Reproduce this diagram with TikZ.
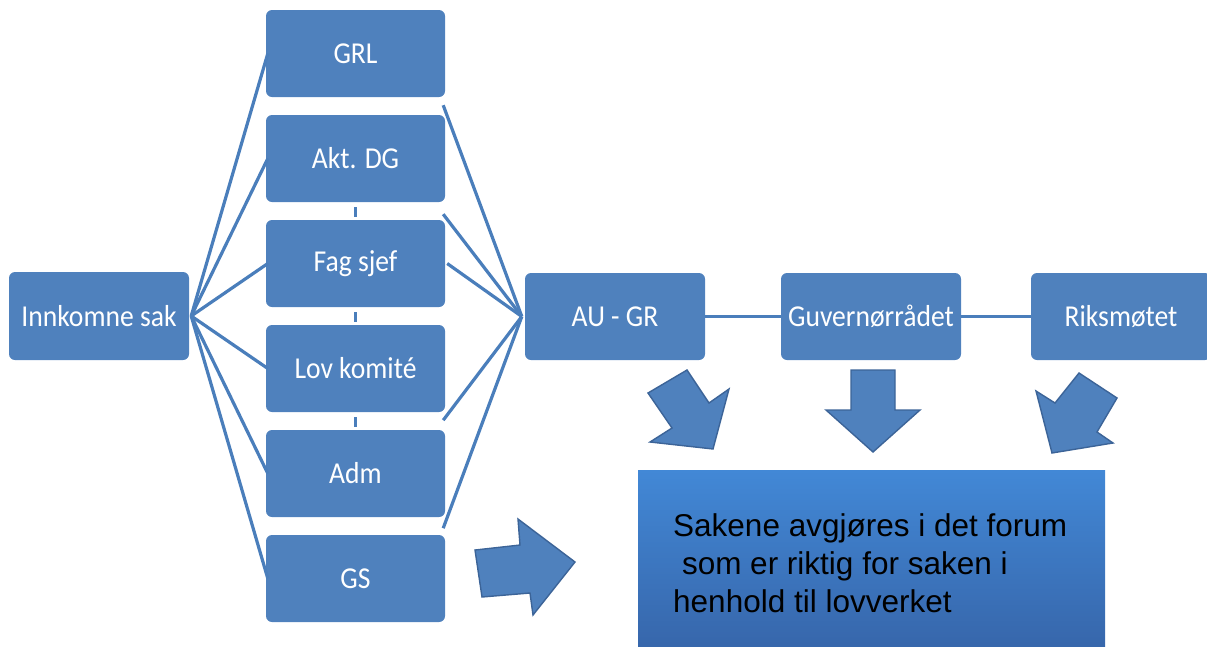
\documentclass[tikz,border=0pt]{standalone}
\usepackage{fontspec}
\setmainfont{Carlito}
\newfontfamily\arialfont{Liberation Sans}
\definecolor{boxblue}{RGB}{79,129,189}
\definecolor{lineblue}{RGB}{74,126,187}
\definecolor{arrowedge}{RGB}{60,100,152}
\definecolor{dectop}{RGB}{66,136,214}
\definecolor{decbottom}{RGB}{54,100,168}
\newcommand{\lbl}[1]{\scalebox{1}[1.1]{#1}}
\begin{document}
\begin{tikzpicture}[x=1pt,y=-1pt,
  orgbox/.style={draw=none, fill=boxblue, rounded corners=6pt, minimum width=179pt, minimum height=87pt, text=white, font=\fontsize{27.6}{33}\selectfont, inner sep=0pt},
  link/.style={draw=lineblue, line width=3.2pt},
  tick/.style={draw=lineblue, line width=3.2pt, shorten <=5pt, shorten >=3pt},
  blockarrow/.style={fill=boxblue, draw=arrowedge, line width=1.4pt, line join=miter},
  decbox/.style={draw=none, top color=dectop, bottom color=decbottom, minimum width=467pt, minimum height=190pt, anchor=north west, inner sep=0pt},
  dectext/.style={anchor=base west, align=left, inner sep=0pt, text=black, font=\arialfont\fontsize{31.5}{38}\selectfont}
]
\useasboundingbox (0,0) rectangle (1207,646);
\clip (0,0) rectangle (1207,646);

% left box
\node[orgbox, minimum width=180pt, minimum height=88pt] (inn) at (99,316) {\lbl{Innkomne sak}};

% middle column
\node[orgbox] (grl) at (355.5,53.5) {\lbl{GRL}};
\node[orgbox] (akt) at (355.5,158.5) {\lbl{Akt. DG}};
\node[orgbox] (fag) at (355.5,263.5) {\lbl{Fag sjef}};
\node[orgbox] (lov) at (355.5,368.5) {\lbl{Lov komité}};
\node[orgbox] (adm) at (355.5,473.5) {\lbl{Adm}};
\node[orgbox] (gs)  at (355.5,578.5) {\lbl{GS}};

% right row
\node[orgbox, minimum width=180pt] (au)  at (615,316.5) {\lbl{AU - GR}};
\node[orgbox, minimum width=180pt] (guv) at (871,316.5) {\lbl{Guvernørrådet}};
\node[orgbox, minimum width=180pt] (rik) at (1121,316.5) {\lbl{Riksmøtet}};

% decision box
\node[decbox] (dec) at (638,470) {};
\node[dectext] (dtext) at (673,612) {Sakene avgjøres i det forum\\\hspace*{8.8pt}som er riktig for saken i\\henhold til lovverket};

% left fan
\foreach \n in {grl,akt,fag,lov,adm,gs}
  \draw[link] ([xshift=2pt]inn.east) -- ([xshift=2pt]\n.west);

% right fan
\coordinate (auin) at ([xshift=-3pt]au.west);
\draw[link] ([shift={(-2pt,-8pt)}]grl.south east) -- (auin);
\draw[link] ([shift={(-2pt,-12pt)}]akt.south east) -- (auin);
\draw[link] ([xshift=2pt]fag.east) -- (auin);
\draw[link] ([shift={(-2pt,-8pt)}]lov.south east) -- (auin);
\draw[link] ([shift={(-2pt,-11pt)}]adm.south east) -- (auin);

% short ticks between stacked boxes
\draw[tick] (akt.south) -- (fag.north);
\draw[tick] (fag.south) -- (lov.north);
\draw[tick] (lov.south) -- (adm.north);

% horizontal links
\draw[link] (au.east) -- (guv.west);
\draw[link] (guv.east) -- (rik.west);

% block arrows
\draw[blockarrow] (687,370) -- (648,393) -- (672,428) -- (650,442) -- (713,449) -- (729,389) -- (709,403) -- cycle;
\draw[blockarrow] (851,370) -- (895,370) -- (895,410) -- (920,410) -- (873,452) -- (826,410) -- (851,410) -- cycle;
\draw[blockarrow] (1079,373) -- (1117,398) -- (1097,432) -- (1113,443) -- (1052,453) -- (1036,391) -- (1055,403) -- cycle;
\draw[blockarrow] (475,550) -- (520,545) -- (518,519) -- (575,562) -- (533,615) -- (530,593) -- (482,597) -- cycle;
\end{tikzpicture}
\end{document}
